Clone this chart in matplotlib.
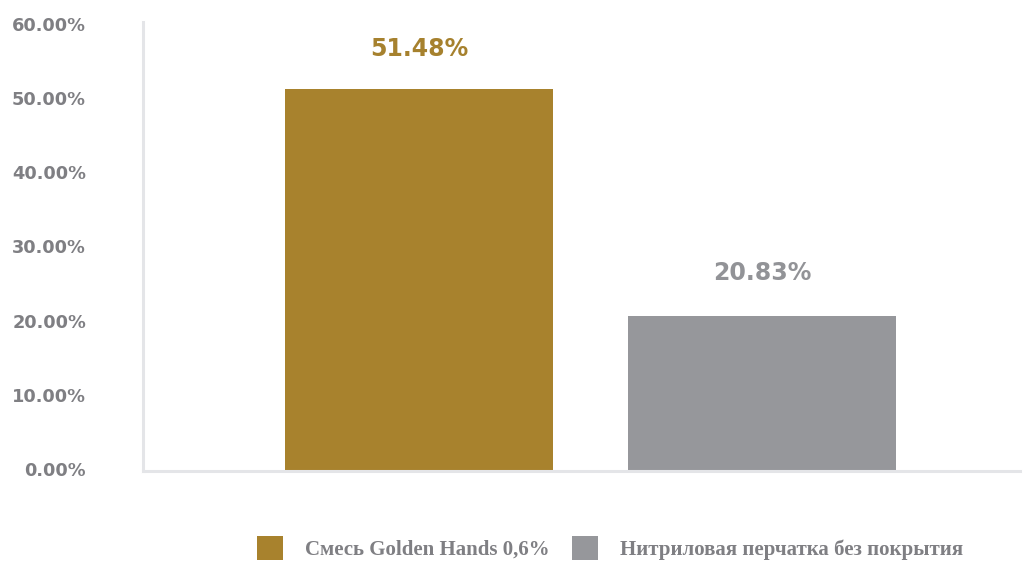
import matplotlib
matplotlib.use("Agg")
import matplotlib.pyplot as plt

categories = ["Смесь Golden Hands 0,6%", "Нитриловая перчатка без покрытия"]
values = [51.48, 20.83]
value_labels = ["51.48%", "20.83%"]
yticks = [0, 10, 20, 30, 40, 50, 60]
ytick_labels = ["0.00%", "10.00%", "20.00%", "30.00%", "40.00%", "50.00%", "60.00%"]

bar_colors = ["#A8822D", "#96979B"]
label_colors = ["#A6812E", "#929397"]
tick_color = "#7F7F83"
axis_color = "#E4E5E8"

fig = plt.figure(figsize=(10.28, 5.63), dpi=100)
ax = fig.add_axes([143/1028, (563-471)/563, (1020-143)/1028, (471-22)/563])

xs = list(range(len(categories)))
bars = ax.bar(xs, values, width=0.78, color=bar_colors, label=categories, zorder=2)

ax.set_xlim(-0.803, 1.75)
ax.set_ylim(0, 60.5)
ax.set_xticks([])
ax.set_yticks(yticks)
ax.set_yticklabels(ytick_labels, fontfamily="DejaVu Sans", fontweight="bold",
                   fontsize=12.8, color=tick_color)
ax.tick_params(axis="y", length=0, pad=41)
for lbl in ax.get_yticklabels():
    lbl.set_va("center")

for s in ["top", "right"]:
    ax.spines[s].set_visible(False)
for s in ["left", "bottom"]:
    ax.spines[s].set_color(axis_color)
    ax.spines[s].set_linewidth(2.2)

for x, v, t, c, o in zip(xs, values, value_labels, label_colors, [29, 31.5]):
    ax.annotate(t, xy=(x, v), xytext=(0, o), textcoords="offset points",
                ha="center", va="center", fontsize=17, fontweight="bold",
                fontfamily="DejaVu Sans", color=c)

leg = ax.legend(handles=bars, labels=categories, loc="center left",
                bbox_to_anchor=(257/1028, 15/563), bbox_transform=fig.transFigure,
                ncol=2, frameon=False, borderpad=0, borderaxespad=0,
                handlelength=1.25, handleheight=1.4, handletextpad=1.06,
                columnspacing=1.06,
                prop={"family": "Liberation Serif", "weight": "bold", "size": 15})
for t in leg.get_texts():
    t.set_color(tick_color)

fig.savefig("out.png", dpi=100)
